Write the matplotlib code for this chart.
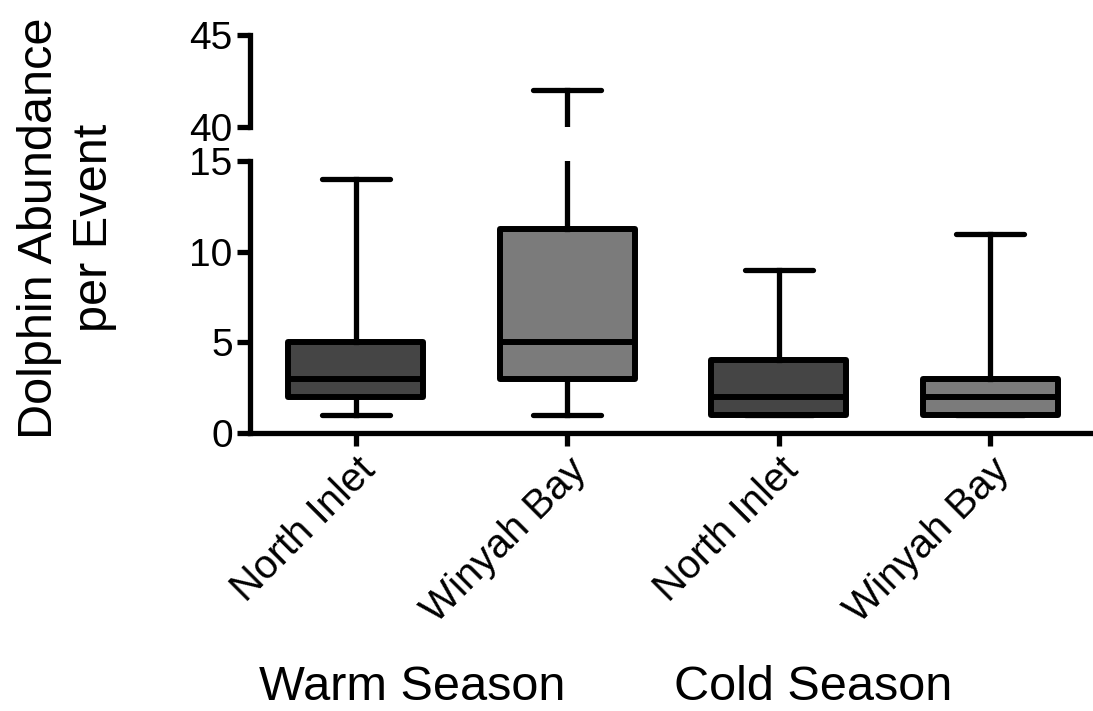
import matplotlib
matplotlib.use("Agg")
import matplotlib.pyplot as plt

plt.rcParams["font.family"] = ["Liberation Sans", "DejaVu Sans"]

# five-number summaries per site/season (min, Q1, median, Q3, max)
sites = ["North Inlet", "Winyah Bay", "North Inlet", "Winyah Bay"]
seasons = ["Warm Season", "Cold Season"]
mins = [1, 1, 1, 1]
q1 = [2, 3, 1, 1]
medians = [3, 5, 2, 2]
q3 = [5, 11.25, 4, 3]
maxs = [14, 42, 9, 11]
box_colors = ["#454545", "#7b7b7b", "#454545", "#7b7b7b"]

W, H = 1093, 711
LW = 4.3

stats = [dict(whislo=lo, q1=a, med=m, q3=b, whishi=hi, label=s)
         for lo, a, m, b, hi, s in zip(mins, q1, medians, q3, maxs, sites)]

fig = plt.figure(figsize=(W / 100, H / 100), dpi=100)
ax_lo = fig.add_axes([250 / W, (H - 433) / H, (W - 250) / W, 272 / H])
ax_hi = fig.add_axes([250 / W, (H - 127) / H, (W - 250) / W, 92 / H])


def draw(ax):
    bp = ax.bxp(stats, positions=range(1, 5), widths=0.64, patch_artist=True,
                showfliers=False,
                boxprops=dict(linewidth=LW, edgecolor="black"),
                medianprops=dict(linewidth=LW, color="black"),
                whiskerprops=dict(linewidth=3.8, color="black"),
                capprops=dict(linewidth=3.8, color="black", solid_capstyle="round"),
                capwidths=0.32)
    for patch, c in zip(bp["boxes"], box_colors):
        patch.set_facecolor(c)
        patch.set_joinstyle("round")
    return bp


for ax in (ax_lo, ax_hi):
    draw(ax)
    ax.set_xlim(0.5, 0.5 + (W - 250) / 211.5)
    for side in ("top", "right"):
        ax.spines[side].set_visible(False)
    ax.spines["left"].set_linewidth(3.8)
    ax.tick_params(axis="y", length=9.5, width=3.8, labelsize=28, pad=3)

ax_lo.set_ylim(0, 15)
ax_lo.set_yticks([0, 5, 10, 15])
ax_lo.spines["bottom"].set_linewidth(3.8)
ax_lo.tick_params(axis="x", length=9, width=3.8, labelsize=29, pad=4)
ax_lo.set_xticks(range(1, 5))
ax_lo.set_xticklabels(sites, rotation=45, ha="right", va="top",
                      rotation_mode="anchor")

ax_hi.set_ylim(40, 45)
ax_hi.set_yticks([40, 45])
ax_hi.spines["bottom"].set_visible(False)
ax_hi.set_xticks([])

fig.text(67 / W, (H - 228) / H, "Dolphin Abundance\nper Event", rotation=90,
         ha="center", va="center", fontsize=35, linespacing=1.3)
fig.text(412 / W, (H - 688) / H, seasons[0], ha="center", va="center", fontsize=35)
fig.text(813 / W, (H - 688) / H, seasons[1], ha="center", va="center", fontsize=35)

fig.savefig("out.png", dpi=100)
